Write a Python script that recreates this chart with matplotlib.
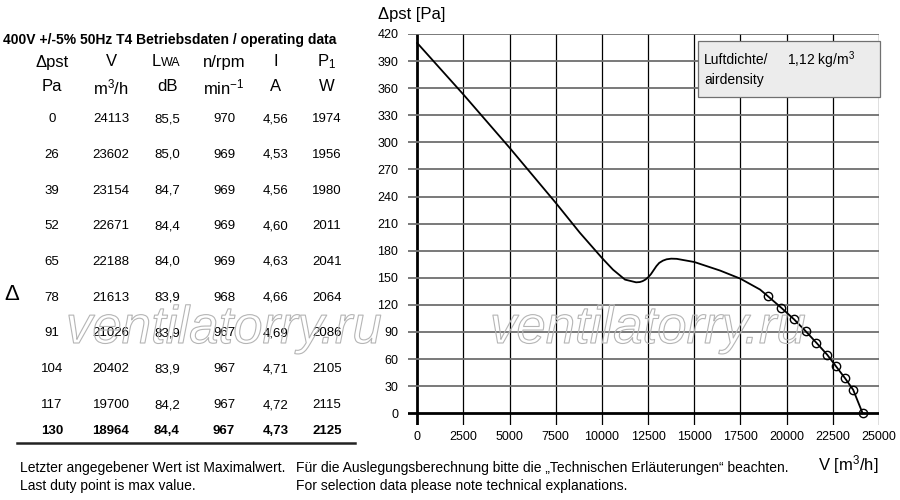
import matplotlib
matplotlib.use('Agg')
from matplotlib import pyplot as plt
from matplotlib import patheffects as pe
from matplotlib.patches import Rectangle

plt.rcParams['font.family'] = ['Liberation Sans', 'DejaVu Sans']
plt.rcParams['mathtext.fontset'] = 'custom'
plt.rcParams['mathtext.rm'] = 'Liberation Sans'
plt.rcParams['mathtext.it'] = 'Liberation Sans:italic'
plt.rcParams['mathtext.bf'] = 'Liberation Sans:bold'

# operating data table (last row = max duty point)
dp_pa = [0, 26, 39, 52, 65, 78, 91, 104, 117, 130]
flow_m3h = [24113, 23602, 23154, 22671, 22188, 21613, 21026, 20402, 19700, 18964]
lwa_db = ["85,5", "85,0", "84,7", "84,4", "84,0", "83,9", "83,9", "83,9", "84,2", "84,4"]
speed_rpm = [970, 969, 969, 969, 969, 968, 967, 967, 967, 967]
current_a = ["4,56", "4,53", "4,56", "4,60", "4,63", "4,66", "4,69", "4,71", "4,72", "4,73"]
power_w = [1974, 1956, 1980, 2011, 2041, 2064, 2086, 2105, 2115, 2125]

# fan curve, up to the first duty point
curve_v = [0, 2500, 5000, 7500, 8800, 10000, 10600, 11250, 11850, 12050, 12200, 12350,
           12500, 12650, 12800, 12950, 13100, 13300, 13500, 13750, 14050, 15000, 16400,
           17500, 18560]
curve_p = [410, 353, 294, 233, 200, 172, 159, 148, 145, 145.3, 146.3, 148,
           150.5, 154, 158.5, 163, 166.5, 169, 170.5, 171.2, 171, 167.5, 158,
           149, 137]

x_ticks = [0, 2500, 5000, 7500, 10000, 12500, 15000, 17500, 20000, 22500, 25000]
y_ticks = list(range(0, 421, 30))

W, H = 900, 500


def fx(px):
    return px / W


def fy(py):
    return 1 - py / H


fig = plt.figure(figsize=(9, 5), dpi=100)

# ---- chart ----
ax = fig.add_axes([fx(408), fy(425), 471 / W, (425 - 34) / H])
ax.set_xlim(-500, 25000)
ax.set_ylim(-13, 420)
for s in ax.spines.values():
    s.set_visible(False)
for v in x_ticks:
    ax.axvline(v, color='black', lw=0.9 if v else 2.0, zorder=1)
for p in y_ticks:
    ax.axhline(p, color='#6e6e6e' if p else 'black', lw=1.3 if p else 2.0, zorder=1)
ax.set_xticks(x_ticks)
ax.set_yticks(y_ticks)
ax.tick_params(length=0, labelsize=9, colors='black')
ax.tick_params(axis='y', pad=7)
ax.tick_params(axis='x', pad=4)

full_v = curve_v + flow_m3h[::-1]
full_p = curve_p + dp_pa[::-1]
ax.plot(full_v, full_p, color='black', lw=1.3, zorder=3)
ax.plot(flow_m3h, dp_pa, 'o', mfc='none', mec='black', ms=6, mew=1.0, zorder=4)

fig.text(fx(378), fy(14), "\u0394pst [Pa]", fontsize=12, va='center', ha='left')
fig.text(fx(878), fy(465), r"V [m$\mathregular{^3}$/h]", fontsize=12, va='center', ha='right')

# air density box
fig.patches.append(Rectangle((fx(698), fy(97)), 182 / W, 56 / H, transform=fig.transFigure,
                             facecolor='#ececec', edgecolor='#707070', lw=0.9, zorder=5))
fig.text(fx(704), fy(60), "Luftdichte/", fontsize=10, va='center', zorder=6)
fig.text(fx(787), fy(60), r"1,12 kg/m$\mathregular{^3}$", fontsize=10, va='center', zorder=6)
fig.text(fx(704), fy(80), "airdensity", fontsize=10, va='center', zorder=6)

# ---- table ----
fig.text(fx(3), fy(40), "400V +/-5% 50Hz T4 Betriebsdaten / operating data",
         fontsize=10, fontweight='bold', va='center', ha='left')
col_x = [52, 111, 167, 224, 276, 327]
head1 = ["\u0394pst", "V", None, "n/rpm", "I", r"$\mathregular{P_1}$"]
head2 = ["Pa", r"m$\mathregular{^3}$/h", "dB", r"min$\mathregular{^{-1}}$", "A", "W"]
for cx, h1, h2 in zip(col_x, head1, head2):
    if h1 is not None:
        fig.text(fx(cx), fy(62), h1, fontsize=12, ha='center', va='center')
    fig.text(fx(cx), fy(87), h2, fontsize=12, ha='center', va='center')
fig.text(fx(161), fy(62), "L", fontsize=12, ha='right', va='center')
fig.text(fx(161), fy(63.5), "WA", fontsize=9, ha='left', va='center')

n = len(dp_pa)
for i in range(n):
    row_y = 119 + i * 35.75 if i < n - 1 else 431
    cells = [dp_pa[i], flow_m3h[i], lwa_db[i], speed_rpm[i], current_a[i], power_w[i]]
    for cx, c in zip(col_x, cells):
        fig.text(fx(cx), fy(row_y), str(c), fontsize=9.5, ha='center', va='center',
                 fontweight='bold' if i == n - 1 else 'normal')
fig.add_artist(plt.Line2D([fx(17), fx(355)], [fy(443), fy(443)], color='#222222', lw=1.8,
                          transform=fig.transFigure))
fig.text(fx(4), fy(294), "\u0394", fontsize=16, ha='left', va='center')

# footer
fig.text(fx(20), fy(468), "Letzter angegebener Wert ist Maximalwert.", fontsize=10, va='center')
fig.text(fx(20), fy(486), "Last duty point is max value.", fontsize=10, va='center')
fig.text(fx(296), fy(468),
         "F\u00fcr die Auslegungsberechnung bitte die \u201eTechnischen Erl\u00e4uterungen\u201c beachten.",
         fontsize=10, va='center')
fig.text(fx(296), fy(486), "For selection data please note technical explanations.",
         fontsize=10, va='center')

# watermark
for left in (66, 490):
    fig.text(fx(left), fy(343), "ventilatorry.ru", fontsize=38, style='italic',
             color=(1, 1, 1, 0), va='baseline', ha='left', zorder=10,
             path_effects=[pe.Stroke(linewidth=0.8, foreground='#b5b5b5')])

fig.savefig('out.png', dpi=100)
